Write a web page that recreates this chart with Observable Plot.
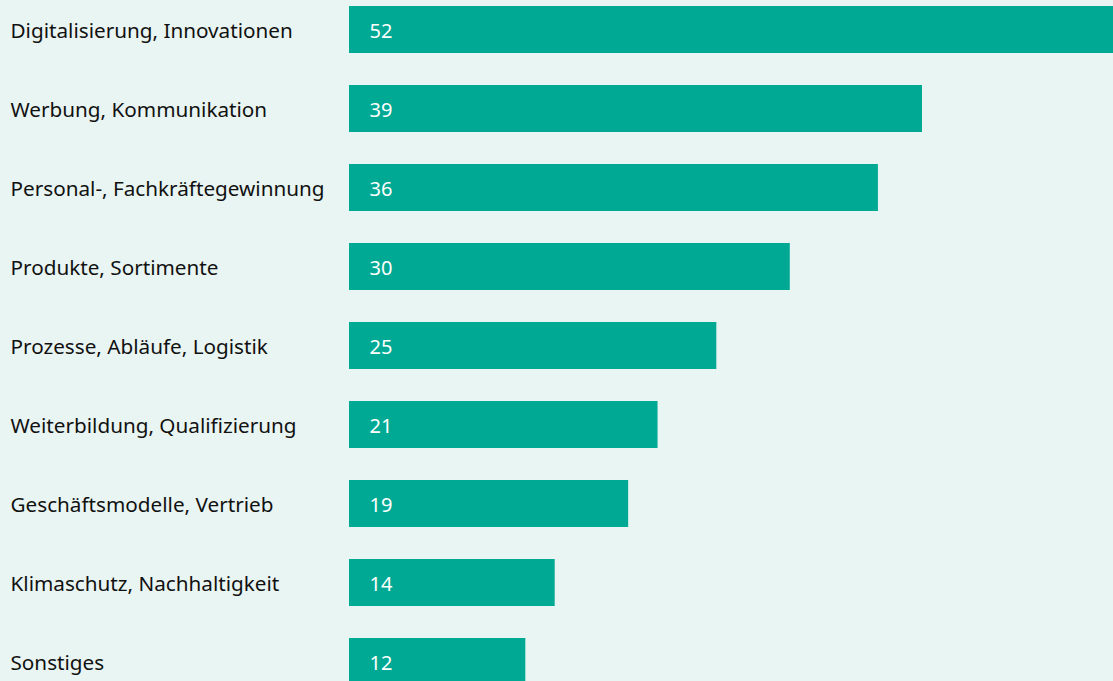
<!DOCTYPE html>
<html>
<head>
<meta charset="utf-8">
<script src="https://cdn.jsdelivr.net/npm/d3@7"></script>
<script src="https://cdn.jsdelivr.net/npm/@observablehq/plot@0.6"></script>
<style>
  html, body { margin: 0; padding: 0; background: #e9f5f2; overflow: hidden; }
  #chart svg { display: block; }
</style>
</head>
<body>
<div id="chart"></div>
<script>
const categories = [
  "Digitalisierung, Innovationen",
  "Werbung, Kommunikation",
  "Personal-, Fachkräftegewinnung",
  "Produkte, Sortimente",
  "Prozesse, Abläufe, Logistik",
  "Weiterbildung, Qualifizierung",
  "Geschäftsmodelle, Vertrieb",
  "Klimaschutz, Nachhaltigkeit",
  "Sonstiges"
];
const values = [52, 39, 36, 30, 25, 21, 19, 14, 12];

const data = categories.map((c, i) => ({cat: c, value: values[i]}));

const W = 1113, H = 681, left = 349;

const chart = Plot.plot({
  width: W,
  height: H,
  marginLeft: 0, marginRight: 0, marginTop: 0, marginBottom: 0,
  style: {background: "#e9f5f2", fontFamily: "'Noto Sans', sans-serif", overflow: "hidden"},
  x: {domain: [0, 52], range: [left, W], axis: null},
  y: {domain: categories, range: [6, 692], padding: 0.4, paddingOuter: 0, align: 0, axis: null},
  marks: [
    Plot.barX(data, {x: "value", y: "cat", fill: "#00a994"}),
    Plot.text(data, {x: 0, y: "cat", text: d => String(d.value), textAnchor: "start", dx: 20, dy: 1.5, fill: "white", fontSize: 20}),
    Plot.text(data, {x: 0, y: "cat", text: "cat", textAnchor: "start", dx: 10 - left, dy: 1.5, fill: "#111111", fontSize: 20.7})
  ]
});
document.getElementById("chart").appendChild(chart);
</script>
</body>
</html>
